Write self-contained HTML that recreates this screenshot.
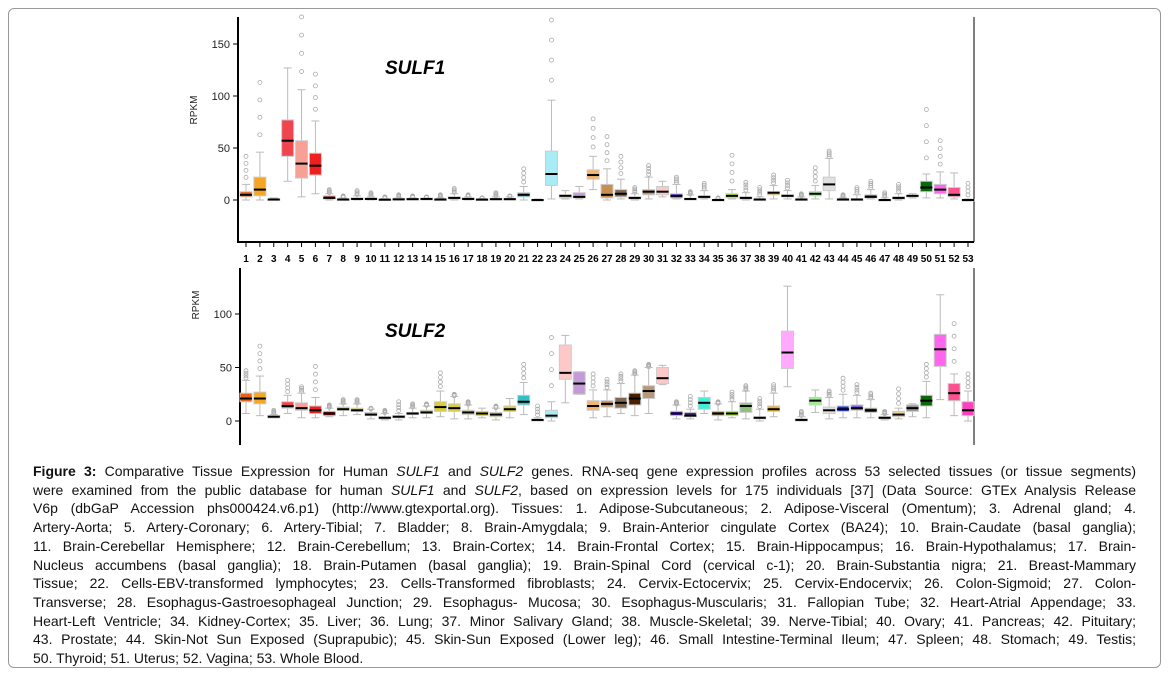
<!DOCTYPE html>
<html><head><meta charset="utf-8"><style>
body{margin:0;background:#fff;width:1168px;height:675px;overflow:hidden;font-family:"Liberation Sans",Arial,sans-serif;}
#frame{position:absolute;left:8px;top:8px;width:1151px;height:658px;border:1px solid #999;border-radius:6px;}
#cap{position:absolute;left:33px;top:462px;width:1103px;font-size:14px;line-height:18.7px;color:#111;}
#cap div{text-align:justify;text-align-last:justify;white-space:nowrap;}
#cap div.last{text-align-last:left;}
svg{position:absolute;left:0;top:0;}
</style></head><body>
<div id="frame"></div>
<svg id="chart" width="1168" height="460"></svg>
<div id="cap">
<div><b>Figure 3:</b> Comparative Tissue Expression for Human <i>SULF1</i> and <i>SULF2</i> genes. RNA-seq gene expression profiles across 53 selected tissues (or tissue segments)</div>
<div>were examined from the public database for human <i>SULF1</i> and <i>SULF2</i>, based on expression levels for 175 individuals [37] (Data Source: GTEx Analysis Release</div>
<div>V6p (dbGaP Accession phs000424.v6.p1) (http://www.gtexportal.org). Tissues: 1. Adipose-Subcutaneous; 2. Adipose-Visceral (Omentum); 3. Adrenal gland; 4.</div>
<div>Artery-Aorta; 5. Artery-Coronary; 6. Artery-Tibial; 7. Bladder; 8. Brain-Amygdala; 9. Brain-Anterior cingulate Cortex (BA24); 10. Brain-Caudate (basal ganglia);</div>
<div>11. Brain-Cerebellar Hemisphere; 12. Brain-Cerebellum; 13. Brain-Cortex; 14. Brain-Frontal Cortex; 15. Brain-Hippocampus; 16. Brain-Hypothalamus; 17. Brain-</div>
<div>Nucleus accumbens (basal ganglia); 18. Brain-Putamen (basal ganglia); 19. Brain-Spinal Cord (cervical c-1); 20. Brain-Substantia nigra; 21. Breast-Mammary</div>
<div>Tissue; 22. Cells-EBV-transformed lymphocytes; 23. Cells-Transformed fibroblasts; 24. Cervix-Ectocervix; 25. Cervix-Endocervix; 26. Colon-Sigmoid; 27. Colon-</div>
<div>Transverse; 28. Esophagus-Gastroesophageal Junction; 29. Esophagus- Mucosa; 30. Esophagus-Muscularis; 31. Fallopian Tube; 32. Heart-Atrial Appendage; 33.</div>
<div>Heart-Left Ventricle; 34. Kidney-Cortex; 35. Liver; 36. Lung; 37. Minor Salivary Gland; 38. Muscle-Skeletal; 39. Nerve-Tibial; 40. Ovary; 41. Pancreas; 42. Pituitary;</div>
<div>43. Prostate; 44. Skin-Not Sun Exposed (Suprapubic); 45. Skin-Sun Exposed (Lower leg); 46. Small Intestine-Terminal Ileum; 47. Spleen; 48. Stomach; 49. Testis;</div>
<div class="last">50. Thyroid; 51. Uterus; 52. Vagina; 53. Whole Blood.</div>
</div>
<script>
const tissues=Array.from({length:53},(_,i)=>String(i+1));
const colors=["#e8621c","#f5a623","#555555","#f0454e","#f7a196","#f01e1e","#8b1a1a","#d8d030","#d8d030","#d8d030","#d8d030","#d8d030","#d8d030","#d8d030","#d8d030","#d8d030","#d8d030","#d8d030","#d8d030","#d8d030","#30c0c8","#333333","#a8ecf5","#ffc8c8","#c49bd6","#f2b66e","#c89050","#806850","#4a2000","#b8987a","#ffc8c8","#6a2ce0","#402a80","#40f0d8","#888040","#a0f020","#90c080","#555555","#f0b020","#ffaaff","#444444","#a0f090","#e0e0e0","#1030f0","#8060e0","#504020","#555555","#f0d090","#909090","#0a6a0a","#ff66ee","#ff5090","#ff40c0"];
// SULF1
const s1q1=[3,4,0,42,21,24,1,0,0.3,0.3,0,0.2,0.3,0.4,0,1,0.3,0,0.3,0.3,3,-1,14,2,2,20,2,3,1,5,5,2,0.5,2,0,2,1,0,5,3,0,4,9,0,0,2,0,1,3,8,6,3,-1];
const s1med=[5,10,0.5,57,35,33,2,0.5,1,1,0.3,0.6,0.8,1,0.5,2,1,0.4,0.8,0.8,5,0,25,4,3,24,5,6,2,8,8,4,1,3,0,4,2,0.5,7,4,0.5,6,15,0.5,0.5,3,0,2,4,12,10,5,0];
const s1q3=[8,22,1,77,57,45,4,1,2,2,1,1.5,1.5,1.5,1,3,2,1,1.5,1.5,7,0.5,47,5,7,29,15,10,3,10,13,6,1.5,4,0.5,6,3,1,8,5,1,8,22,1,1,5,0.5,3,4.5,18,15,12,0.5];
const s1lo=[0,0,0,18,3,6,0,0,0,0,0,0,0,0,0,0,0,0,0,0,0,-1,1,1,1,10,0,1,0,1,3,1,0,1,0,1,0,0,1,1,0,1,1,0,0,1,0,0,2,2,2,1,-1];
const s1hi=[15,46,2,127,106,76,6,2,4,3,1.5,2,2,2,2,6,3,1.5,3,3,13,1,96,9,13,42,30,20,6,22,18,15,5,9,1,10,7,3,14,9,3,14,40,2,5,10,2,6,6,25,27,26,1];
const s1out=[42,113,2,0,176,121,10,4,9,7,3,5,4,3,5,11,5,2,7,4,30,1,173,0,0,78,61,42,12,33,0,22,8,16,2,43,17,12,24,19,6,31,47,5,12,18,7,15,0,87,57,26,16];
// SULF2
const s2q1=[18,16,3,12,10,7,5,10,9,5,2,3,6,7,9,9,6,5,4,9,15,0,3,39,25,10,13,12,15,21,35,5,4,11,5,5,8,2,9,49,0,15,7,9,10,8,2,4,9,14,51,19,5];
const s2med=[21,21,4,14,12,10,7,11,10,6,3,4,7,8,13,12,8,7,6,11,18,1,5,45,35,14,16,17,21,28,40,7,5,17,7,7,14,3,11,64,1,19,10,11,12,10,3,6,12,19,67,26,10];
const s2q3=[26,27,5,18,17,14,9,13,12,8,4,5,8,10,18,16,10,9,8,14,24,1.5,10,71,46,19,19,22,26,33,50,9,8,22,9,9,17,4,14,84,2,22,13,14,15,12,4,9,15,24,81,35,18];
const s2lo=[7,5,3,7,3,3,4,5,6,2,1,1,3,3,4,2,2,3,1,3,6,0,0,17,25,3,4,7,5,7,34,2,2,7,1,3,2,0,4,32,0,8,2,3,3,3,1,2,4,3,20,5,0];
const s2hi=[38,42,6,24,26,22,12,16,16,11,7,7,12,14,28,23,15,12,12,21,36,3,18,80,46,29,29,35,43,50,52,15,11,28,16,18,28,11,26,126,4,29,22,25,24,20,6,12,16,37,118,44,28];
const s2out=[47,70,10,38,32,51,15,20,20,12,10,18,16,16,45,25,18,0,14,0,53,14,78,0,0,44,39,44,47,53,0,18,23,0,18,27,33,21,34,0,9,27,28,40,34,26,9,30,12,53,0,91,44];

const NS='http://www.w3.org/2000/svg';
const svg=document.getElementById('chart');
function mk(tag,attrs,parent){const e=document.createElementNS(NS,tag);for(const k in attrs)e.setAttribute(k,attrs[k]);(parent||svg).appendChild(e);return e;}
const xPos=i=>246+i*(968-246)/52;

function panel(cfg){
  const g=mk('g',{});
  
  
  const y=v=>cfg.zeroY-v*cfg.scale;
  const ax=mk('line',{x1:cfg.axisX,y1:cfg.top,x2:cfg.axisX,y2:cfg.bottom,stroke:'#000','stroke-width':2},g);
  
  
  const rx=mk('line',{x1:974,y1:cfg.top,x2:974,y2:cfg.bottom,stroke:'#555','stroke-width':1.5},g);
  
  
  cfg.ticks.forEach(t=>{
    mk('line',{x1:cfg.axisX-5,y1:y(t),x2:cfg.axisX,y2:y(t),stroke:'#000','stroke-width':1},g);
    const tx=mk('text',{x:cfg.axisX-8,y:y(t)+4,'text-anchor':'end','font-size':11,fill:'#222'},g);
    tx.textContent=t;
    
    
  });
  const yl=mk('text',{transform:`translate(${cfg.axisX-41},${cfg.labelY}) rotate(-90)`,'text-anchor':'middle','font-size':10,fill:'#222'},g);
  yl.textContent='RPKM';
  
  
  const tl=mk('text',{x:cfg.titleX,y:cfg.titleY,'font-size':19,'font-weight':'bold','font-style':'italic',fill:'#000'},g);
  tl.textContent=cfg.title;
  
  
  tissues.forEach((t,i)=>{
    const x=xPos(i),w=12;
    const bg=mk('g',{},g);
    
    
    const hi=cfg.hi[i],out=cfg.out[i];
    if(out>hi){for(let k=1;k<=4;k++){const v=hi+(out-hi)*k/4;mk('circle',{cx:x,cy:y(v),r:2,fill:'none',stroke:'#aaa','stroke-width':0.8},bg);}}
    mk('line',{x1:x,y1:y(cfg.lo[i]),x2:x,y2:y(hi),stroke:'#bbb','stroke-width':1},bg);
    mk('line',{x1:x-4,y1:y(hi),x2:x+4,y2:y(hi),stroke:'#bbb','stroke-width':1},bg);
    mk('line',{x1:x-4,y1:y(cfg.lo[i]),x2:x+4,y2:y(cfg.lo[i]),stroke:'#bbb','stroke-width':1},bg);
    const top=y(cfg.q3[i]),bot=y(cfg.q1[i]);
    mk('rect',{x:x-w/2,y:top,width:w,height:Math.max(bot-top,1.5),fill:colors[i],stroke:'#ccc','stroke-width':1},bg);
    mk('line',{x1:x-w/2,y1:y(cfg.med[i]),x2:x+w/2,y2:y(cfg.med[i]),stroke:'#000','stroke-width':2},bg);
  });
  return y;
}
panel({name:'sulf1-panel',axisX:238,top:17,bottom:242,zeroY:200,scale:1.04,ticks:[0,50,100,150],labelY:110,title:'SULF1',titleX:385,titleY:74,
  q1:s1q1,med:s1med,q3:s1q3,lo:s1lo,hi:s1hi,out:s1out});
const xa=mk('line',{x1:237,y1:242,x2:974,y2:242,stroke:'#000','stroke-width':2});


tissues.forEach((t,i)=>{
  mk('line',{x1:xPos(i),y1:242,x2:xPos(i),y2:247,stroke:'#000','stroke-width':1});
  const tx=mk('text',{x:xPos(i),y:262,'text-anchor':'middle','font-size':10,'font-weight':'bold',fill:'#000'});
  tx.textContent=t;
  
  
});
panel({name:'sulf2-panel',axisX:240,top:268,bottom:445,zeroY:421,scale:1.07,ticks:[0,50,100],labelY:305,title:'SULF2',titleX:385,titleY:337,
  q1:s2q1,med:s2med,q3:s2q3,lo:s2lo,hi:s2hi,out:s2out});
</script>
</body></html>
